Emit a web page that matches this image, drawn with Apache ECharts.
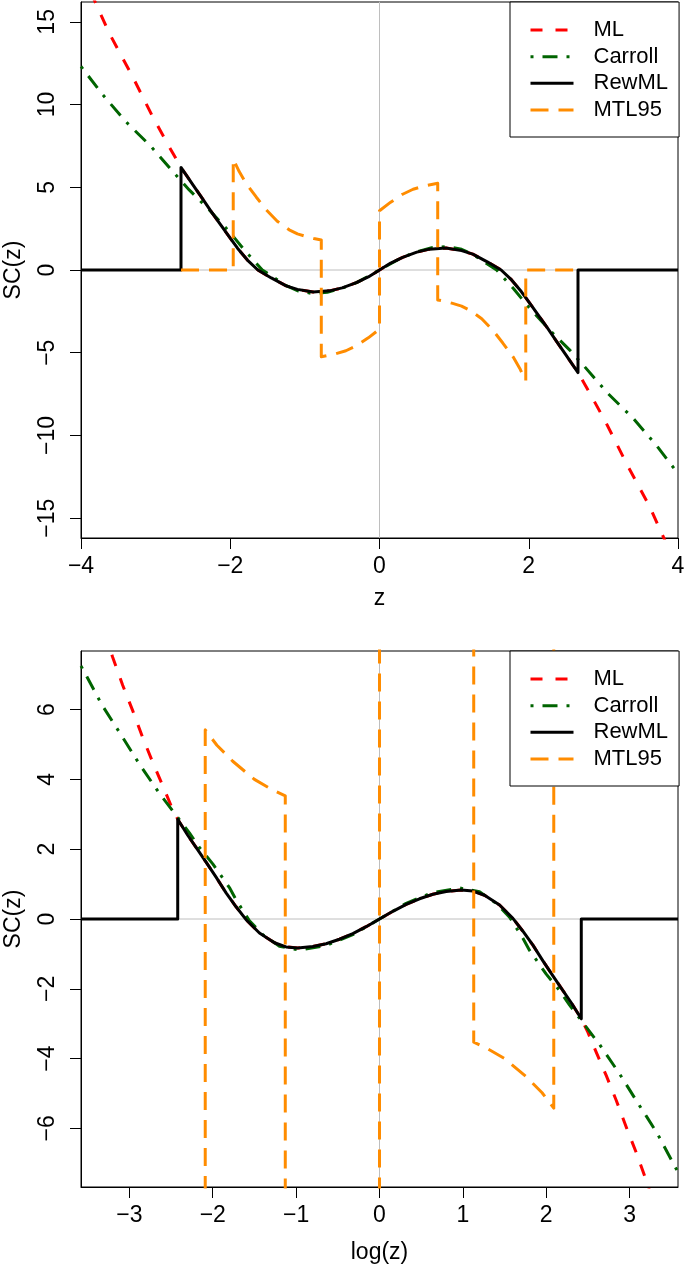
<!DOCTYPE html>
<html><head><meta charset="utf-8">
<script src="https://cdn.jsdelivr.net/npm/echarts@6/dist/echarts.min.js"></script>
<style>html,body{margin:0;padding:0;background:#fff}#c{width:685px;height:1266px}</style>
</head><body><div id="c"></div>
<script>
// ---------- top panel (z) ----------
const topRange = [-4, 4];
const topYRange = [-16.2, 16.2];
const topXTicks = [-4, -2, 0, 2, 4];
const topYTicks = [-15, -10, -5, 0, 5, 10, 15];

const topMLz  = [-4, -3.82, -3.62, -3.31, -3.04, -2.82, -2.66, -2.5, -2.37, -2.25, -2.14, -2.02, -1.9, -1.77, -1.63, -1.45, -1.25, -1.1, -0.89, -0.67, -0.5, -0.31, -0.15, 0, 0.15, 0.31, 0.5, 0.67, 0.89, 1.1, 1.25, 1.45, 1.63, 1.77, 1.9, 2.02, 2.14, 2.25, 2.37, 2.5, 2.66, 2.82, 3.04, 3.31, 3.62, 3.82, 4];
const topMLsc = [18.2, 16.3, 14.3, 11.7, 9.27, 7.46, 6.2, 5.15, 4.3, 3.5, 2.8, 2.05, 1.3, 0.6, 0, -0.48, -0.96, -1.17, -1.33, -1.26, -1.08, -0.76, -0.42, 0, 0.42, 0.76, 1.08, 1.26, 1.33, 1.17, 0.96, 0.48, 0, -0.6, -1.3, -2.05, -2.8, -3.5, -4.3, -5.15, -6.2, -7.46, -9.27, -11.7, -14.3, -16.3, -18.2];

const topCarz  = [-4, -3.71, -3.4, -3.06, -2.75, -2.55, -2.28, -2.0, -1.8, -1.57, -1.4, -1.25, -1.1, -0.9, -0.7, -0.5, -0.3, 0, 0.3, 0.5, 0.7, 0.9, 1.1, 1.25, 1.4, 1.57, 1.8, 2.0, 2.28, 2.55, 2.75, 3.06, 3.4, 3.71, 4];
const topCarsc = [12.3, 10.6, 8.97, 7.46, 5.85, 4.84, 3.63, 2.25, 1.15, 0, -0.5, -0.95, -1.25, -1.42, -1.35, -1.1, -0.75, 0, 0.75, 1.1, 1.35, 1.42, 1.25, 0.95, 0.5, 0, -1.15, -2.25, -3.63, -4.84, -5.85, -7.46, -8.97, -10.6, -12.3];

const topRewz  = [-4, -2.66, -2.66, -2.5, -2.37, -2.25, -2.14, -2.02, -1.9, -1.77, -1.63, -1.45, -1.25, -1.1, -0.89, -0.67, -0.5, -0.31, -0.15, 0, 0.15, 0.31, 0.5, 0.67, 0.89, 1.1, 1.25, 1.45, 1.63, 1.77, 1.9, 2.02, 2.14, 2.25, 2.37, 2.5, 2.66, 2.66, 4];
const topRewsc = [0, 0, 6.2, 5.15, 4.3, 3.5, 2.8, 2.05, 1.3, 0.6, 0, -0.48, -0.96, -1.17, -1.33, -1.26, -1.08, -0.76, -0.42, 0, 0.42, 0.76, 1.08, 1.26, 1.33, 1.17, 0.96, 0.48, 0, -0.6, -1.3, -2.05, -2.8, -3.5, -4.3, -5.15, -6.2, 0, 0];

const topMTLz  = [-2.66, -1.96, -1.96, -1.88, -1.79, -1.65, -1.52, -1.37, -1.21, -1.1, -0.98, -0.88, -0.78, -0.78, -0.6, -0.45, -0.31, -0.15, 0, 0, 0.15, 0.31, 0.45, 0.6, 0.78, 0.78, 0.88, 0.98, 1.1, 1.21, 1.37, 1.52, 1.65, 1.79, 1.88, 1.96, 1.96, 2.66];
const topMTLsc = [0, 0, 6.7, 5.95, 5.25, 4.4, 3.65, 2.95, 2.43, 2.18, 2.02, 1.9, 1.81, -5.24, -5.08, -4.88, -4.58, -4.1, -3.58, 3.58, 4.1, 4.58, 4.88, 5.08, 5.24, -1.81, -1.9, -2.02, -2.18, -2.43, -2.95, -3.65, -4.4, -5.25, -5.95, -6.7, 0, 0];

// ---------- bottom panel (log z) ----------
const botRange = [-3.58, 3.58];
const botYRange = [-7.68, 7.68];
const botXTicks = [-3, -2, -1, 0, 1, 2, 3];
const botYTicks = [-6, -4, -2, 0, 2, 4, 6];

const botMLz  = [-3.58, -3.35, -3.2, -3.08, -2.96, -2.84, -2.72, -2.6, -2.5, -2.42, -2.3, -2.2, -2.08, -1.96, -1.84, -1.72, -1.6, -1.44, -1.26, -1.12, -0.98, -0.8, -0.64, -0.48, -0.32, -0.16, 0, 0.16, 0.32, 0.48, 0.64, 0.8, 0.98, 1.12, 1.26, 1.44, 1.6, 1.72, 1.84, 1.96, 2.08, 2.2, 2.3, 2.42, 2.5, 2.6, 2.72, 2.84, 2.96, 3.08, 3.2, 3.35, 3.58];
const botMLsc = [10.3, 8.6, 7.5, 6.7, 5.97, 5.2, 4.49, 3.82, 3.25, 2.86, 2.4, 2.05, 1.63, 1.2, 0.75, 0.35, -0.02, -0.4, -0.68, -0.8, -0.83, -0.79, -0.71, -0.58, -0.42, -0.22, 0, 0.22, 0.42, 0.58, 0.71, 0.79, 0.83, 0.8, 0.68, 0.4, 0.02, -0.35, -0.75, -1.2, -1.63, -2.05, -2.4, -2.86, -3.25, -3.82, -4.49, -5.2, -5.97, -6.7, -7.5, -8.6, -10.3];

const botCarz  = [-3.58, -3.54, -3.33, -3.2, -3.1, -2.88, -2.64, -2.48, -2.28, -2.16, -2.0, -1.8, -1.72, -1.56, -1.4, -1.2, -0.96, -0.64, -0.32, 0, 0.32, 0.64, 0.96, 1.2, 1.4, 1.56, 1.72, 1.8, 2.0, 2.16, 2.28, 2.48, 2.64, 2.88, 3.1, 3.2, 3.33, 3.54, 3.58];
const botCarsc = [7.25, 7.08, 6.14, 5.65, 5.28, 4.44, 3.6, 3.1, 2.47, 2.05, 1.58, 0.9, 0.55, -0.05, -0.45, -0.78, -0.89, -0.76, -0.45, 0, 0.45, 0.76, 0.89, 0.78, 0.45, 0.05, -0.55, -0.9, -1.58, -2.05, -2.47, -3.1, -3.6, -4.44, -5.28, -5.65, -6.14, -7.08, -7.25];

const botRewz  = [-3.58, -2.42, -2.42, -2.3, -2.2, -2.08, -1.96, -1.84, -1.72, -1.6, -1.44, -1.26, -1.12, -0.98, -0.8, -0.64, -0.48, -0.32, -0.16, 0, 0.16, 0.32, 0.48, 0.64, 0.8, 0.98, 1.12, 1.26, 1.44, 1.6, 1.72, 1.84, 1.96, 2.08, 2.2, 2.3, 2.42, 2.42, 3.58];
const botRewsc = [0, 0, 2.86, 2.4, 2.05, 1.63, 1.2, 0.75, 0.35, -0.02, -0.4, -0.68, -0.8, -0.83, -0.79, -0.71, -0.58, -0.42, -0.22, 0, 0.22, 0.42, 0.58, 0.71, 0.79, 0.83, 0.8, 0.68, 0.4, 0.02, -0.35, -0.75, -1.2, -1.63, -2.05, -2.4, -2.86, 0, 0];

const botMTLz  = [-3.58, -2.09, -2.09, -1.95, -1.76, -1.5, -1.3, -1.13, -1.13, 0, 0, 1.13, 1.13, 1.3, 1.5, 1.76, 1.95, 2.09, 2.09, 3.58];
const botMTLsc = [-30, -30, 5.42, 4.98, 4.52, 4.0, 3.72, 3.53, -30, -30, 30, 30, -3.53, -3.72, -4.0, -4.52, -4.98, -5.42, 30, 30];

const names = ['ML', 'Carroll', 'RewML', 'MTL95'];

// ---------- styles ----------
const FONT = 'Liberation Sans, Arial, Helvetica, sans-serif';
const styles = {
  ML:      { color: '#FF0000', type: [12, 13] },
  Carroll: { color: '#006400', type: [3, 9, 15, 9] },
  RewML:   { color: '#000000', type: 'solid' },
  MTL95:   { color: '#FF8C00', type: [18, 10] }
};
const pairs = (xs, ys) => xs.map((x, i) => [x, ys[i]]);
const minus = v => (v < 0 ? '\u2212' + Math.abs(v) : String(v));

function curve(name, xs, ys, gi) {
  const s = styles[name];
  return {
    type: 'line', name, xAxisIndex: gi, yAxisIndex: gi,
    data: pairs(xs, ys), symbol: 'none', showSymbol: false, clip: true,
    animation: false, silent: true, emphasis: { disabled: true },
    lineStyle: { color: s.color, width: 3, type: s.type, cap: 'butt', join: 'round' },
    itemStyle: { color: s.color }
  };
}
function refLine(gi, data) {
  return {
    type: 'line', name: 'ref' + gi + data[0][0], xAxisIndex: gi, yAxisIndex: gi,
    data, symbol: 'none', animation: false, silent: true, clip: true,
    lineStyle: { color: '#BEBEBE', width: 1 }, emphasis: { disabled: true }
  };
}
function xAxis(gi, range, ticks, name, gap) {
  return {
    type: 'value', gridIndex: gi, min: range[0], max: range[1],
    axisLine: { show: true, onZero: false, lineStyle: { color: '#000', width: 1 } },
    axisTick: { show: true, length: 11, customValues: ticks, lineStyle: { color: '#000', width: 1 } },
    axisLabel: { customValues: ticks, formatter: minus, margin: 17, fontSize: 23, color: '#000', fontFamily: FONT },
    splitLine: { show: false },
    name, nameLocation: 'middle', nameGap: gap,
    nameTextStyle: { fontSize: 23, color: '#000', fontFamily: FONT }
  };
}
function yAxis(gi, range, ticks) {
  return {
    type: 'value', gridIndex: gi, min: range[0], max: range[1],
    axisLine: { show: true, onZero: false, lineStyle: { color: '#000', width: 1 } },
    axisTick: { show: true, length: 11, customValues: ticks, lineStyle: { color: '#000', width: 1 } },
    axisLabel: { customValues: ticks, formatter: minus, rotate: 90, margin: 22, fontSize: 23, color: '#000', fontFamily: FONT },
    splitLine: { show: false },
    name: 'SC(z)', nameLocation: 'middle', nameGap: 56,
    nameTextStyle: { fontSize: 23, color: '#000', fontFamily: FONT }
  };
}
function legend(top) {
  return {
    data: names, orient: 'vertical', left: 510, top,
    padding: [14.6, 11, 13.6, 19], itemWidth: 43, itemHeight: 14, itemGap: 0,
    selectedMode: false, backgroundColor: '#fff', borderColor: '#000', borderWidth: 1, borderRadius: 0,
    itemStyle: { color: 'transparent', borderColor: 'transparent', borderWidth: 0, opacity: 0 },
    lineStyle: { width: 3 },
    textStyle: { fontSize: 22, color: '#000', fontFamily: FONT, lineHeight: 26.7, padding: [0, 0, 0, 15] }
  };
}

const chart = echarts.init(document.getElementById('c'), null, { renderer: 'canvas' });
chart.setOption({
  backgroundColor: '#fff',
  animation: false,
  grid: [
    { left: 81, top: 2, width: 597, height: 536, show: true, borderColor: '#000', borderWidth: 1, backgroundColor: 'transparent', containLabel: false, outerBoundsMode: 'none' },
    { left: 81, top: 651, width: 597, height: 536, show: true, borderColor: '#000', borderWidth: 1, backgroundColor: 'transparent', containLabel: false, outerBoundsMode: 'none' }
  ],
  xAxis: [xAxis(0, topRange, topXTicks, 'z', 49), xAxis(1, botRange, botXTicks, 'log(z)', 54)],
  yAxis: [yAxis(0, topYRange, topYTicks), yAxis(1, botYRange, botYTicks)],
  legend: [legend(2), legend(651)],
  series: [
    refLine(0, [[topRange[0], 0], [topRange[1], 0]]),
    refLine(0, [[0, topYRange[0]], [0, topYRange[1]]]),
    curve('ML', topMLz, topMLsc, 0),
    curve('Carroll', topCarz, topCarsc, 0),
    curve('RewML', topRewz, topRewsc, 0),
    curve('MTL95', topMTLz, topMTLsc, 0),
    refLine(1, [[botRange[0], 0], [botRange[1], 0]]),
    refLine(1, [[0, botYRange[0]], [0, botYRange[1]]]),
    curve('ML', botMLz, botMLsc, 1),
    curve('Carroll', botCarz, botCarsc, 1),
    curve('RewML', botRewz, botRewsc, 1),
    curve('MTL95', botMTLz, botMTLsc, 1)
  ]
});
</script></body></html>
